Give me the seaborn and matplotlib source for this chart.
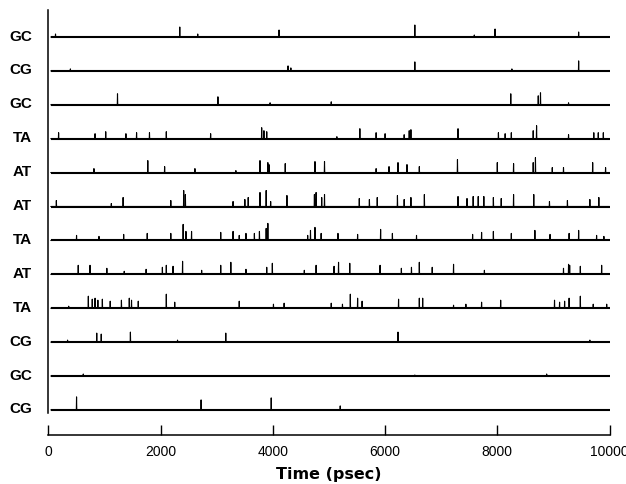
import numpy as np
import pandas as pd
import matplotlib
matplotlib.use("Agg")
import matplotlib.pyplot as plt
import seaborn as sns

# base-pair label of each trace, top to bottom
row_labels = ["GC", "CG", "GC", "TA", "AT", "AT", "TA", "AT", "TA", "CG", "GC", "CG"]

# spike times (psec) and spike heights (arbitrary units)
r1_t = [125, 2340, 2660, 4110, 6530, 7590, 7960, 9450]
r1_h = [3, 10, 3, 7, 12, 2, 8, 5]

r2_t = [390, 4270, 4320, 6530, 8260, 9450]
r2_h = [2, 5, 3, 9, 2, 10]

r3_t = [1230, 3020, 3950, 5040, 8240, 8730, 8770, 9270]
r3_h = [11, 8, 2, 3, 11, 9, 12, 2]

r4_t = [180, 830, 1020, 1380, 1570, 1800, 2100, 2890, 3800, 3840, 3890, 5140,
        5550, 5840, 6000, 6340, 6430, 6460, 7300, 8020, 8140, 8250, 8640, 8700,
        9270, 9720, 9800, 9890]
r4_h = [6, 5, 7, 5, 6, 6, 7, 5, 11, 8, 7, 2,
        10, 6, 5, 4, 8, 9, 10, 6, 5, 6, 8, 13,
        4, 6, 6, 6]

r5_t = [810, 1770, 2070, 2610, 3340, 3770, 3910, 3930, 4220, 4750, 4920, 5840,
        6070, 6230, 6390, 6610, 7290, 8000, 8290, 8640, 8680, 8980, 9180, 9700,
        9930]
r5_h = [4, 12, 6, 4, 2, 12, 10, 8, 9, 11, 11, 4,
        6, 10, 8, 6, 13, 10, 9, 10, 15, 5, 5, 10,
        5]

r6_t = [140, 1120, 1330, 2180, 2410, 2440, 3290, 3500, 3560, 3770, 3880, 3960,
        4250, 4740, 4770, 4870, 4920, 5540, 5720, 5860, 6220, 6340, 6460, 6700,
        7300, 7460, 7570, 7660, 7760, 7930, 8070, 8290, 8650, 8930, 9250, 9650,
        9810]
r6_h = [6, 3, 9, 6, 16, 12, 5, 7, 9, 14, 16, 5,
        11, 12, 14, 9, 12, 8, 7, 9, 11, 7, 9, 12,
        10, 8, 10, 10, 10, 9, 8, 12, 12, 5, 6, 7,
        9]

r7_t = [500, 900, 1340, 1760, 2180, 2400, 2450, 2550, 3070, 3290, 3400, 3520,
        3670, 3760, 3880, 3910, 4620, 4670, 4750, 4860, 5160, 5510, 5920, 6130,
        6560, 7560, 7720, 7930, 8250, 8670, 8940, 9280, 9450, 9770, 9900]
r7_h = [5, 4, 6, 7, 7, 16, 9, 9, 8, 9, 5, 7,
        7, 9, 12, 17, 5, 10, 13, 7, 7, 6, 11, 7,
        5, 6, 8, 9, 7, 10, 6, 7, 10, 5, 4]

r8_t = [530, 740, 1040, 1350, 1740, 2030, 2100, 2220, 2390, 2730, 3070, 3250,
        3520, 3890, 3990, 4560, 4770, 5090, 5170, 5370, 5910, 6290, 6470, 6610,
        6840, 7220, 7770, 9180, 9270, 9290, 9480, 9860]
r8_h = [9, 9, 6, 3, 5, 7, 9, 8, 13, 4, 9, 12,
        5, 7, 11, 4, 9, 8, 12, 11, 9, 6, 7, 12,
        7, 10, 4, 6, 10, 9, 8, 9]

r9_t = [360, 710, 780, 830, 880, 960, 1100, 1300, 1440, 1480, 1600, 2100,
        2250, 3400, 4010, 4200, 5040, 5240, 5380, 5510, 5590, 6240, 6610, 6670,
        7220, 7440, 7720, 8060, 9020, 9110, 9200, 9280, 9480, 9710, 9950]
r9_h = [2, 12, 9, 10, 8, 9, 7, 8, 10, 8, 7, 14,
        6, 7, 4, 5, 5, 4, 14, 10, 7, 9, 10, 10,
        3, 4, 6, 8, 8, 6, 7, 10, 12, 4, 4]

r10_t = [340, 860, 940, 1460, 2300, 3160, 6230, 9650]
r10_h = [2, 9, 8, 10, 2, 9, 10, 2]

r11_t = [620, 6530, 8880]
r11_h = [2, 1, 2]

r12_t = [500, 2720, 3970, 5200]
r12_h = [13, 10, 12, 4]

spike_times = [r1_t, r2_t, r3_t, r4_t, r5_t, r6_t, r7_t, r8_t, r9_t, r10_t, r11_t, r12_t]
spike_heights = [r1_h, r2_h, r3_h, r4_h, r5_h, r6_h, r7_h, r8_h, r9_h, r10_h, r11_h, r12_h]

x_ticks = [0, 2000, 4000, 6000, 8000, 10000]
t_start = 40
t_end = 10000

# layout: vertical unit is roughly one pixel of the figure
top_base = 398
row_gap = 33.9
half_width = 4  # half width of one spike in psec

bases = [top_base - row_gap * i for i in range(len(row_labels))]

rows = []
for i, (ts, hs) in enumerate(zip(spike_times, spike_heights)):
    base = bases[i]
    pts = [(t_start, base)]
    for t, h in sorted(zip(ts, hs)):
        pts += [(t - half_width, base), (t, base + h), (t + half_width, base)]
    pts.append((t_end, base))
    for t, y in pts:
        rows.append({"time": t, "signal": y, "row": i})
df = pd.DataFrame(rows)

sns.set_style("ticks")
plt.rcParams["font.family"] = ["Liberation Sans", "DejaVu Sans"]
for key in ["text.color", "axes.labelcolor", "xtick.color", "ytick.color"]:
    plt.rcParams[key] = "black"

fig = plt.figure(figsize=(6.26, 4.84), dpi=100)
ax = fig.add_axes([48.5 / 626, 49 / 484, 561 / 626, 425 / 484])

# thick baselines, then the spiky traces on top
ax.hlines(bases, t_start, t_end, color="black", linewidth=1.5)
sns.lineplot(data=df, x="time", y="signal", units="row", estimator=None,
             sort=False, color="black", linewidth=0.8, ax=ax)

ax.set_xlim(0, t_end)
ax.set_ylim(0, 425)
ax.set_xticks(x_ticks)
ax.set_xticklabels([str(v) for v in x_ticks], fontsize=10)
ax.tick_params(axis="x", direction="in", length=7, width=1, pad=7, colors="black")

ax.set_yticks([b + 2 for b in bases])
ax.set_yticklabels(row_labels, fontsize=11, fontweight="bold")
ax.tick_params(axis="y", length=0, pad=12, colors="black")

sns.despine(ax=ax, top=True, right=True)
ax.spines["left"].set_bounds(22, 425)
for side in ["left", "bottom"]:
    ax.spines[side].set_linewidth(1.1)
    ax.spines[side].set_color("black")

ax.set_xlabel("Time (psec)", fontsize=11.5, fontweight="bold",
              family=["DejaVu Sans"], labelpad=6, color="black")
ax.set_ylabel("")

fig.savefig("out.png", dpi=100)
